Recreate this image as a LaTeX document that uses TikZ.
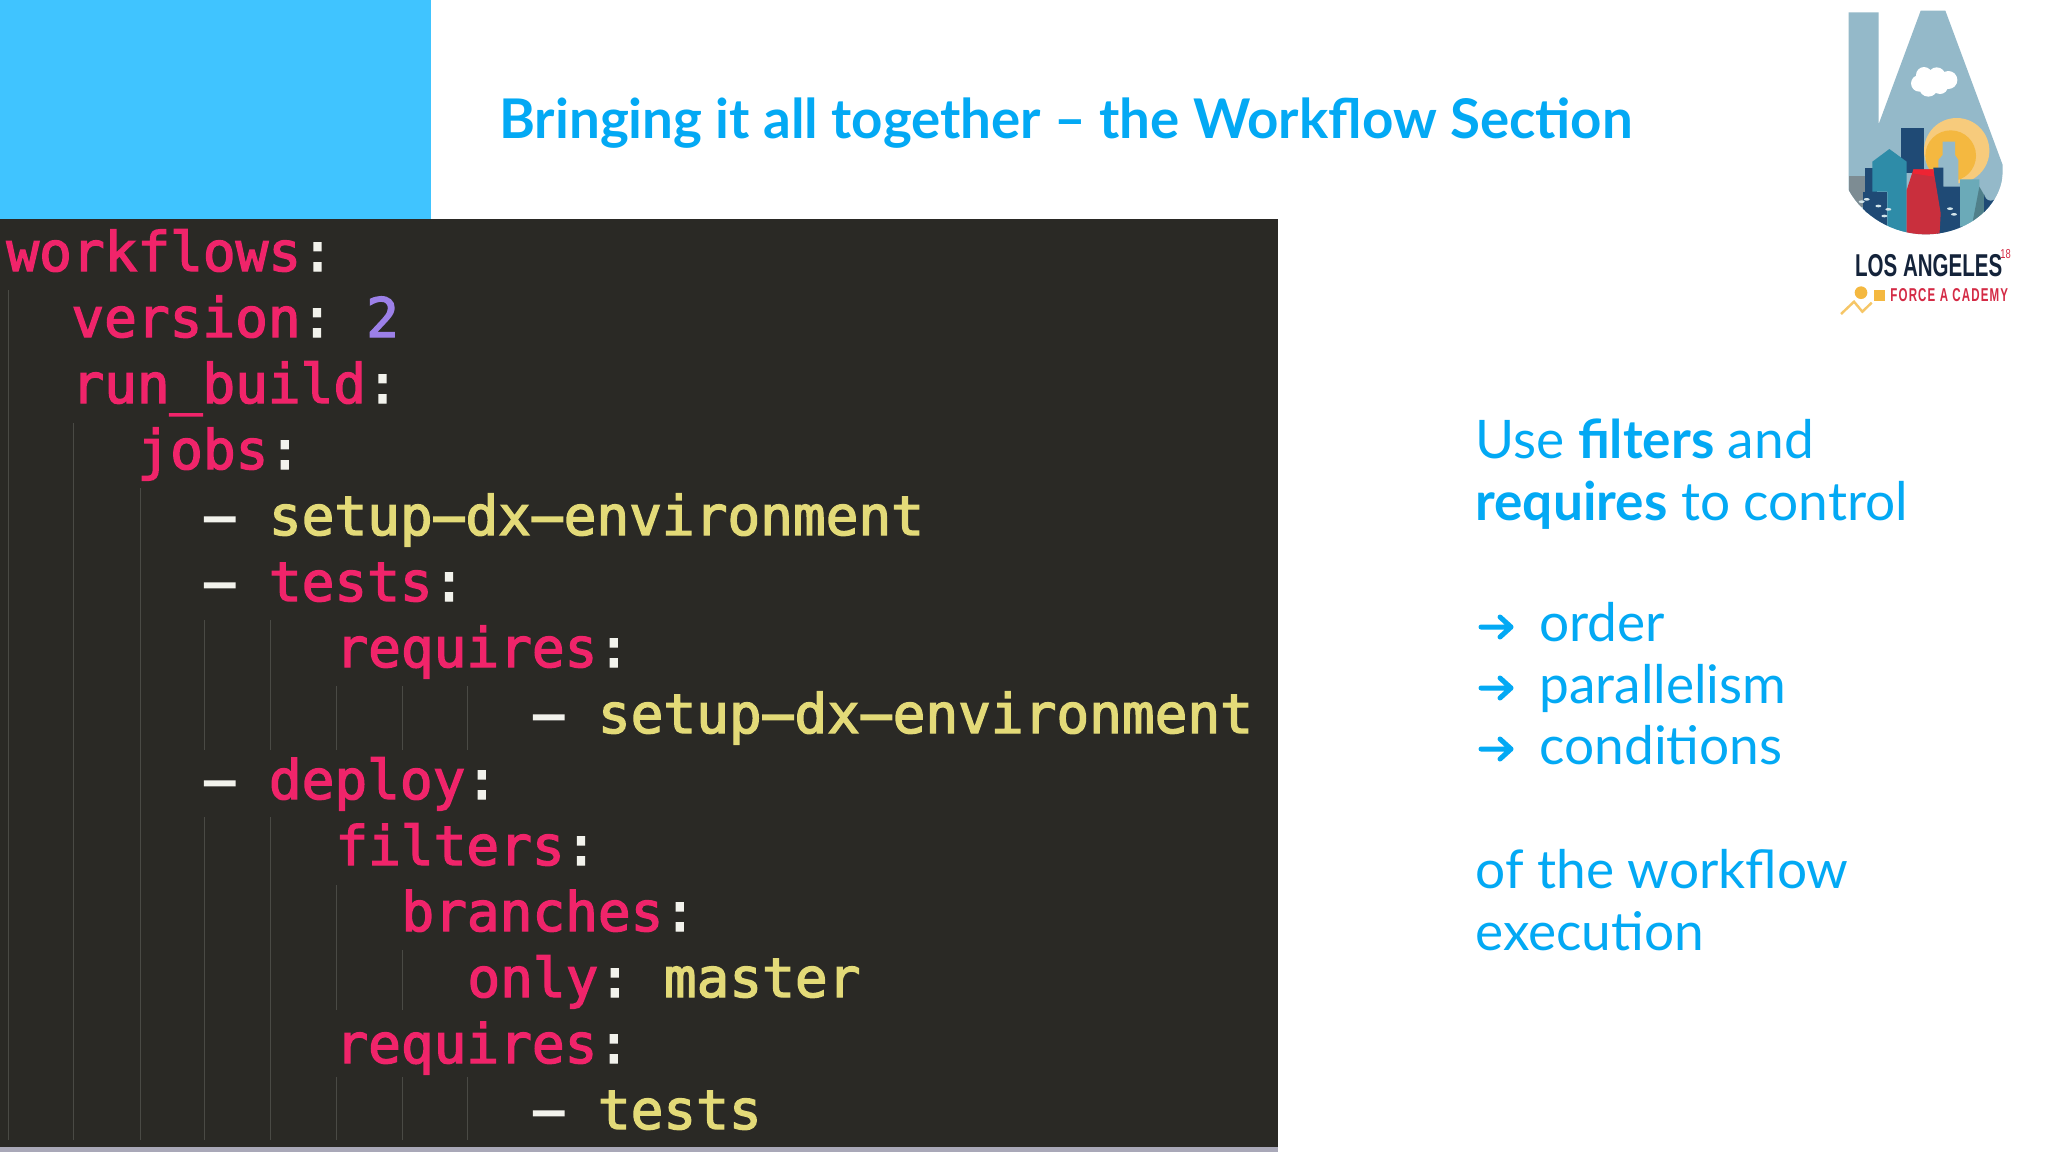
\documentclass[tikz,border=0pt]{standalone}
\usepackage{fontspec}
\setmainfont{Lato}
\newfontfamily\codefont[FakeBold=2.5]{DejaVu Sans Mono}
\newfontfamily\logofont{Liberation Sans}
\definecolor{slideblue}{HTML}{40C4FF}
\definecolor{inkblue}{HTML}{03A9F4}
\definecolor{codebg}{HTML}{2A2925}
\definecolor{cpink}{HTML}{F0246A}
\definecolor{cyellow}{HTML}{E3DA78}
\definecolor{cpurple}{HTML}{9C80E8}
\definecolor{cwhite}{HTML}{F2F2EC}
\definecolor{guide}{HTML}{4A4A45}
\definecolor{stripbar}{HTML}{A9A8B8}
\definecolor{skyb}{HTML}{94B9C9}
\definecolor{navy}{HTML}{1F4A75}
\definecolor{tealb}{HTML}{2E8CA8}
\definecolor{lteal}{HTML}{6BAAB8}
\definecolor{sunA}{HTML}{F7CB7C}
\definecolor{sunB}{HTML}{F4B840}
\definecolor{redb}{HTML}{C92F3D}
\definecolor{redc}{HTML}{EE2433}
\definecolor{logoink}{HTML}{14233A}
\definecolor{logored}{HTML}{D42A45}
\tikzset{
  code/.style={anchor=base west,inner sep=0pt,font=\codefont\frenchspacing\fontsize{27.2}{30}\selectfont,text=cpink},
  side/.style={anchor=base west,inner sep=0pt,font=\fontsize{26.6}{30}\selectfont,text=inkblue},
  guideline/.style={draw=guide,line width=0.5pt},
  arrowline/.style={draw=inkblue,line width=2.5pt,line cap=round,line join=round},
}
\newcommand{\cW}[1]{\textcolor{cwhite}{#1}}
\newcommand{\cY}[1]{\textcolor{cyellow}{#1}}
\newcommand{\cP}[1]{\textcolor{cpurple}{#1}}
\newcommand{\hy}{\makebox[16.38pt][c]{\scalebox{2.1}[1.05]{-}}}
\begin{document}
\begin{tikzpicture}[x=0.5pt,y=-0.5pt]
\useasboundingbox (0,0) rectangle (2048,1152);
\fill[white] (0,0) rectangle (2048,1152);
\fill[slideblue] (0,0) rectangle (431,219);
\fill[codebg] (0,219) rectangle (1278,1147);
\fill[stripbar] (0,1147) rectangle (1278,1152);
% indent guides
\foreach \gx/\ga/\gb in {8/290/1140,73/423/1140,140/488/1140,
  204/620/750,270/620/750,336/686/750,402/686/750,467/686/750,
  204/817/1140,270/817/1140,336/885/1010,402/950/1010,
  336/1077/1140,402/1077/1140,467/1077/1140}
  \draw[guideline] (\gx,\ga) -- (\gx,\gb);
% code
\node[code] (l0) at (6,271) {workflows\cW{:}};
\node[code] (l1) at (71,337) {version\cW{:} \cP{2}};
\node[code] (l2) at (71,403) {run\_build\cW{:}};
\node[code] (l3) at (137,469) {jobs\cW{:}};
\node[code] (l4) at (203,535) {\cW{\hy} \cY{setup\hy dx\hy environment}};
\node[code] (l5) at (203,601) {\cW{\hy} tests\cW{:}};
\node[code] (l6) at (335,667) {requires\cW{:}};
\node[code] (l7) at (532,733) {\cW{\hy} \cY{setup\hy dx\hy environment}};
\node[code] (l8) at (203,799) {\cW{\hy} deploy\cW{:}};
\node[code] (l9) at (335,865) {filters\cW{:}};
\node[code] (l10) at (401,931) {branches\cW{:}};
\node[code] (l11) at (467,997) {only\cW{:} \cY{master}};
\node[code] (l12) at (335,1063) {requires\cW{:}};
\node[code] (l13) at (532,1129) {\cW{\hy} \cY{tests}};
% title
\node[anchor=base west,inner sep=0pt,text=inkblue,font=\bfseries\fontsize{27.35}{30}\selectfont] (title) at (499,138) {Bringing it all together – the Workflow Section};
% side text
\node[side] (s1) at (1475,458) {Use \textbf{filters} and};
\node[side] (s2) at (1475,520) {\textbf{requires} to control};
\node[side] (s3) at (1539,641) {order};
\node[side] (s4) at (1539,703) {parallelism};
\node[side] (s5) at (1539,764) {conditions};
\node[side] (s6) at (1475,888) {of the workflow};
\node[side] (s7) at (1475,950) {execution};
\foreach \ay in {627,688,749}
  \draw[arrowline] (1481,\ay) -- (1511,\ay) (1500,\ay-10) -- (1511,\ay) -- (1500,\ay+10);
% logo, in coordinates of a 3x crop at (1780,0)
\begin{scope}[shift={(1780,0)},x=0.16667pt,y=-0.16667pt]
  \def\drop{(206,37) -- (296,37) -- (296,372) -- (422,32) -- (496,32) -- (668,495) -- (668,510)
    .. controls (668,620) and (560,703) .. (437,703) .. controls (340,703) and (250,650) .. (206,570) -- cycle}
  \fill[skyb] \drop;
  \begin{scope}
    \clip \drop;
    \fill[black!45!skyb!75!white] (206,528) rectangle (262,620);
    \fill[sunA] (530,452) circle (98);
    \fill[sunB] (512,467) circle (76);
    \fill[skyb] (590,535) rectangle (680,600);
    \fill[skyb] (488,425) -- (525,425) -- (525,465) -- (535,480) -- (535,570) -- (475,570) -- (475,480) -- (488,465) -- cycle;
    \fill[navy] (362,385) rectangle (433,520);
    \fill[navy] (256,503) rectangle (290,640);
    \fill[navy] (250,575) rectangle (322,710);
    \fill[navy] (460,503) -- (490,503) -- (490,560) -- (548,560) -- (548,710) -- (470,710) -- cycle;
    \fill[lteal] (540,538) -- (598,538) -- (598,600) -- (575,680) -- (540,680) -- cycle;
    \fill[black!25!lteal] (598,560) -- (650,650) -- (575,680) -- cycle;
    \fill[navy] (612,640) -- (612,582) arc[start angle=180,end angle=0,radius=20] -- (652,640) -- cycle;
    \fill[tealb] (277,485) -- (328,447) -- (380,485) -- (380,710) -- (322,710) -- (322,575) -- (277,575) -- cycle;
    \fill[redb] (380,710) -- (380,570) -- (400,508) -- (460,508) -- (482,640) -- (478,710) -- cycle;
    \fill[redc] (400,508) -- (460,508) -- (462,530) -- (398,520) -- cycle;
    \foreach \px/\py in {245/605, 260/598, 295/618, 325/628, 313/648, 510/626, 522/643}
      \fill[white!70!lteal] (\px,\py) ellipse (9 and 4);
  \end{scope}
  \fill[white] (432,225) circle (24) (470,228) circle (26) (505,240) circle (27) (418,250) circle (25)
     (445,262) circle (28) (480,258) circle (24);
  \node[anchor=base west,inner sep=0pt,text=logoink,font=\logofont\bfseries\fontsize{15.8}{16}\selectfont] (la) at (224,830) {\scalebox{0.65}[1]{LOS ANGELES}};
  \node[anchor=base west,inner sep=0pt,text=logored,font=\logofont\fontsize{6.5}{7}\selectfont] (yr) at (660,775) {\scalebox{0.72}[1]{18}};
  \node[anchor=base west,inner sep=0pt,text=logored,font=\logofont\bfseries\fontsize{9.3}{10}\selectfont\addfontfeature{LetterSpace=10}] (fa) at (330,903) {\scalebox{0.62}[1]{FORCE A CADEMY}};
  \fill[sunB] (243,878) circle (19);
  \fill[sunB] (283,870) rectangle (315,903);
  \draw[sunB!80!white,line width=1.2pt] (183,942) -- (222,905) -- (247,935) -- (275,908);
\end{scope}
\end{tikzpicture}
\end{document}
